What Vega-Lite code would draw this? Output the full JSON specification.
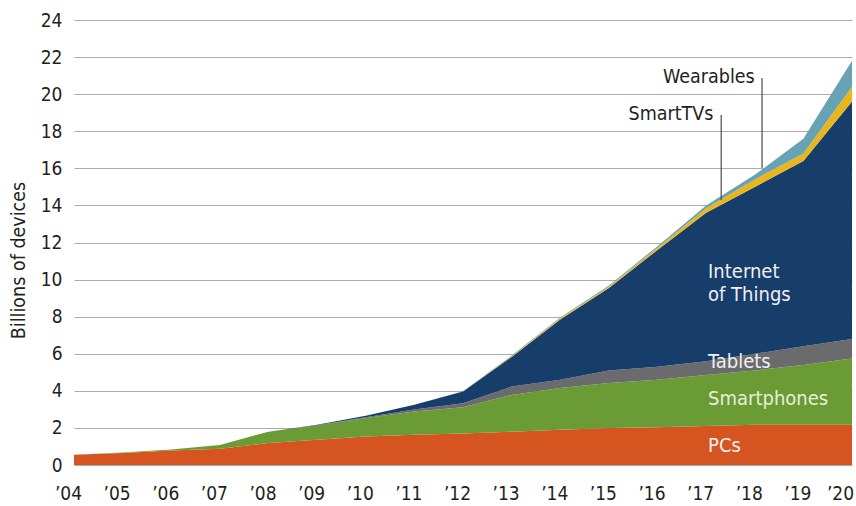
{
  "$schema": "https://vega.github.io/schema/vega-lite/v6.json",
  "width": 778,
  "height": 445,
  "autosize": "none",
  "padding": {"left": 74, "top": 20, "right": 4, "bottom": 41},
  "background": "white",
  "config": {
    "view": {"stroke": null},
    "font": "'DejaVu Sans Condensed', 'Liberation Sans Narrow', 'Liberation Sans', sans-serif",
    "axis": {"labelFont": "'DejaVu Sans Condensed', 'Liberation Sans Narrow', 'Liberation Sans', sans-serif", "titleFont": "'DejaVu Sans Condensed', 'Liberation Sans Narrow', 'Liberation Sans', sans-serif"},
    "text": {"font": "'DejaVu Sans Condensed', 'Liberation Sans Narrow', 'Liberation Sans', sans-serif"}
  },
  "datasets": {
    "series": [
      {"year": 2004, "device": "PCs", "rank": 1, "value": 0.55},
      {"year": 2004, "device": "Smartphones", "rank": 2, "value": 0},
      {"year": 2004, "device": "Tablets", "rank": 3, "value": 0},
      {"year": 2004, "device": "Internet of Things", "rank": 4, "value": 0},
      {"year": 2004, "device": "SmartTVs", "rank": 5, "value": 0},
      {"year": 2004, "device": "Wearables", "rank": 6, "value": 0},
      {"year": 2005, "device": "PCs", "rank": 1, "value": 0.65},
      {"year": 2005, "device": "Smartphones", "rank": 2, "value": 0.02},
      {"year": 2005, "device": "Tablets", "rank": 3, "value": 0},
      {"year": 2005, "device": "Internet of Things", "rank": 4, "value": 0},
      {"year": 2005, "device": "SmartTVs", "rank": 5, "value": 0},
      {"year": 2005, "device": "Wearables", "rank": 6, "value": 0},
      {"year": 2006, "device": "PCs", "rank": 1, "value": 0.78},
      {"year": 2006, "device": "Smartphones", "rank": 2, "value": 0.06},
      {"year": 2006, "device": "Tablets", "rank": 3, "value": 0},
      {"year": 2006, "device": "Internet of Things", "rank": 4, "value": 0},
      {"year": 2006, "device": "SmartTVs", "rank": 5, "value": 0},
      {"year": 2006, "device": "Wearables", "rank": 6, "value": 0},
      {"year": 2007, "device": "PCs", "rank": 1, "value": 0.87},
      {"year": 2007, "device": "Smartphones", "rank": 2, "value": 0.21},
      {"year": 2007, "device": "Tablets", "rank": 3, "value": 0},
      {"year": 2007, "device": "Internet of Things", "rank": 4, "value": 0},
      {"year": 2007, "device": "SmartTVs", "rank": 5, "value": 0},
      {"year": 2007, "device": "Wearables", "rank": 6, "value": 0},
      {"year": 2008, "device": "PCs", "rank": 1, "value": 1.18},
      {"year": 2008, "device": "Smartphones", "rank": 2, "value": 0.62},
      {"year": 2008, "device": "Tablets", "rank": 3, "value": 0},
      {"year": 2008, "device": "Internet of Things", "rank": 4, "value": 0},
      {"year": 2008, "device": "SmartTVs", "rank": 5, "value": 0},
      {"year": 2008, "device": "Wearables", "rank": 6, "value": 0},
      {"year": 2009, "device": "PCs", "rank": 1, "value": 1.36},
      {"year": 2009, "device": "Smartphones", "rank": 2, "value": 0.78},
      {"year": 2009, "device": "Tablets", "rank": 3, "value": 0.01},
      {"year": 2009, "device": "Internet of Things", "rank": 4, "value": 0.02},
      {"year": 2009, "device": "SmartTVs", "rank": 5, "value": 0},
      {"year": 2009, "device": "Wearables", "rank": 6, "value": 0},
      {"year": 2010, "device": "PCs", "rank": 1, "value": 1.54},
      {"year": 2010, "device": "Smartphones", "rank": 2, "value": 1.0},
      {"year": 2010, "device": "Tablets", "rank": 3, "value": 0.04},
      {"year": 2010, "device": "Internet of Things", "rank": 4, "value": 0.08},
      {"year": 2010, "device": "SmartTVs", "rank": 5, "value": 0},
      {"year": 2010, "device": "Wearables", "rank": 6, "value": 0},
      {"year": 2011, "device": "PCs", "rank": 1, "value": 1.63},
      {"year": 2011, "device": "Smartphones", "rank": 2, "value": 1.25},
      {"year": 2011, "device": "Tablets", "rank": 3, "value": 0.12},
      {"year": 2011, "device": "Internet of Things", "rank": 4, "value": 0.25},
      {"year": 2011, "device": "SmartTVs", "rank": 5, "value": 0},
      {"year": 2011, "device": "Wearables", "rank": 6, "value": 0},
      {"year": 2012, "device": "PCs", "rank": 1, "value": 1.7},
      {"year": 2012, "device": "Smartphones", "rank": 2, "value": 1.42},
      {"year": 2012, "device": "Tablets", "rank": 3, "value": 0.21},
      {"year": 2012, "device": "Internet of Things", "rank": 4, "value": 0.63},
      {"year": 2012, "device": "SmartTVs", "rank": 5, "value": 0.01},
      {"year": 2012, "device": "Wearables", "rank": 6, "value": 0.01},
      {"year": 2013, "device": "PCs", "rank": 1, "value": 1.8},
      {"year": 2013, "device": "Smartphones", "rank": 2, "value": 1.98},
      {"year": 2013, "device": "Tablets", "rank": 3, "value": 0.45},
      {"year": 2013, "device": "Internet of Things", "rank": 4, "value": 1.6},
      {"year": 2013, "device": "SmartTVs", "rank": 5, "value": 0.04},
      {"year": 2013, "device": "Wearables", "rank": 6, "value": 0.03},
      {"year": 2014, "device": "PCs", "rank": 1, "value": 1.9},
      {"year": 2014, "device": "Smartphones", "rank": 2, "value": 2.25},
      {"year": 2014, "device": "Tablets", "rank": 3, "value": 0.45},
      {"year": 2014, "device": "Internet of Things", "rank": 4, "value": 3.25},
      {"year": 2014, "device": "SmartTVs", "rank": 5, "value": 0.06},
      {"year": 2014, "device": "Wearables", "rank": 6, "value": 0.04},
      {"year": 2015, "device": "PCs", "rank": 1, "value": 2.0},
      {"year": 2015, "device": "Smartphones", "rank": 2, "value": 2.42},
      {"year": 2015, "device": "Tablets", "rank": 3, "value": 0.68},
      {"year": 2015, "device": "Internet of Things", "rank": 4, "value": 4.45},
      {"year": 2015, "device": "SmartTVs", "rank": 5, "value": 0.08},
      {"year": 2015, "device": "Wearables", "rank": 6, "value": 0.05},
      {"year": 2016, "device": "PCs", "rank": 1, "value": 2.04},
      {"year": 2016, "device": "Smartphones", "rank": 2, "value": 2.56},
      {"year": 2016, "device": "Tablets", "rank": 3, "value": 0.7},
      {"year": 2016, "device": "Internet of Things", "rank": 4, "value": 6.3},
      {"year": 2016, "device": "SmartTVs", "rank": 5, "value": 0.12},
      {"year": 2016, "device": "Wearables", "rank": 6, "value": 0.08},
      {"year": 2017, "device": "PCs", "rank": 1, "value": 2.1},
      {"year": 2017, "device": "Smartphones", "rank": 2, "value": 2.76},
      {"year": 2017, "device": "Tablets", "rank": 3, "value": 0.74},
      {"year": 2017, "device": "Internet of Things", "rank": 4, "value": 8.0},
      {"year": 2017, "device": "SmartTVs", "rank": 5, "value": 0.25},
      {"year": 2017, "device": "Wearables", "rank": 6, "value": 0.15},
      {"year": 2018, "device": "PCs", "rank": 1, "value": 2.17},
      {"year": 2018, "device": "Smartphones", "rank": 2, "value": 2.93},
      {"year": 2018, "device": "Tablets", "rank": 3, "value": 0.9},
      {"year": 2018, "device": "Internet of Things", "rank": 4, "value": 9.0},
      {"year": 2018, "device": "SmartTVs", "rank": 5, "value": 0.4},
      {"year": 2018, "device": "Wearables", "rank": 6, "value": 0.25},
      {"year": 2019, "device": "PCs", "rank": 1, "value": 2.17},
      {"year": 2019, "device": "Smartphones", "rank": 2, "value": 3.23},
      {"year": 2019, "device": "Tablets", "rank": 3, "value": 1.0},
      {"year": 2019, "device": "Internet of Things", "rank": 4, "value": 10.0},
      {"year": 2019, "device": "SmartTVs", "rank": 5, "value": 0.4},
      {"year": 2019, "device": "Wearables", "rank": 6, "value": 0.8},
      {"year": 2020, "device": "PCs", "rank": 1, "value": 2.17},
      {"year": 2020, "device": "Smartphones", "rank": 2, "value": 3.58},
      {"year": 2020, "device": "Tablets", "rank": 3, "value": 1.05},
      {"year": 2020, "device": "Internet of Things", "rank": 4, "value": 12.8},
      {"year": 2020, "device": "SmartTVs", "rank": 5, "value": 0.8},
      {"year": 2020, "device": "Wearables", "rank": 6, "value": 1.4}
    ],
    "leaders": [
      {"year": 2018.15, "value": 20.87, "value2": 16.02},
      {"year": 2017.31, "value": 18.88, "value2": 14.29}
    ],
    "callouts": [
      {"year": 2018.0, "value": 20.62, "label": "Wearables"},
      {"year": 2017.15, "value": 18.61, "label": "SmartTVs"}
    ],
    "inner": [
      {"year": 2017.04, "value": 10.09, "label": "Internet", "kind": "light"},
      {"year": 2017.04, "value": 8.85, "label": "of Things", "kind": "light"},
      {"year": 2017.04, "value": 5.21, "label": "Tablets", "kind": "light"},
      {"year": 2017.04, "value": 3.24, "label": "Smartphones", "kind": "green"},
      {"year": 2017.04, "value": 0.72, "label": "PCs", "kind": "light"}
    ]
  },
  "encoding": {
    "x": {
      "field": "year",
      "type": "quantitative",
      "scale": {"domain": [2004, 2020], "nice": false, "zero": false},
      "axis": {
        "title": null,
        "values": [2004, 2005, 2006, 2007, 2008, 2009, 2010, 2011, 2012, 2013, 2014, 2015, 2016, 2017, 2018, 2019, 2020],
        "format": "d",
        "labelExpr": "'\u2019' + substring(datum.label, 2)",
        "labelFontSize": 19,
        "labelColor": "#231f20",
        "labelPadding": 19,
        "labelOffset": {"condition": {"test": "datum.value == 2020", "value": -12}, "value": -6},
        "labelFlush": false,
        "ticks": false,
        "domain": false,
        "grid": false,
        "labelOverlap": false
      }
    },
    "y": {
      "field": "value",
      "type": "quantitative",
      "scale": {"domain": [0, 24], "nice": false},
      "axis": {
        "title": "Billions of devices",
        "titleFontSize": 19.5,
        "titleFontWeight": "normal",
        "titleColor": "#231f20",
        "titleX": -56,
        "titleY": 240,
        "titleAlign": "center",
        "titleBaseline": "middle",
        "titleAngle": -90,
        "values": [0, 2, 4, 6, 8, 10, 12, 14, 16, 18, 20, 22, 24],
        "labelFontSize": 19,
        "labelColor": "#231f20",
        "labelPadding": 12,
        "ticks": false,
        "domain": false,
        "grid": true,
        "gridColor": "#ababab",
        "gridWidth": 1.2
      }
    }
  },
  "layer": [
    {
      "data": {"name": "series"},
      "mark": {"type": "area", "interpolate": "linear"},
      "encoding": {
        "y": {"field": "value", "type": "quantitative", "stack": "zero"},
        "color": {
          "field": "device",
          "type": "nominal",
          "scale": {
            "domain": ["PCs", "Smartphones", "Tablets", "Internet of Things", "SmartTVs", "Wearables"],
            "range": ["#d6541f", "#6a9b35", "#6b6b6d", "#173e6b", "#e9b61e", "#68a3b5"]
          },
          "legend": null
        },
        "order": {"field": "rank", "type": "quantitative"}
      }
    },
    {
      "data": {"name": "leaders"},
      "mark": {"type": "rule", "color": "#4a4a4a", "strokeWidth": 1.2},
      "encoding": {
        "y2": {"field": "value2"}
      }
    },
    {
      "data": {"name": "callouts"},
      "mark": {"type": "text", "align": "right", "baseline": "alphabetic", "fontSize": 19.5, "color": "#231f20"},
      "encoding": {
        "text": {"field": "label"}
      }
    },
    {
      "data": {"name": "inner"},
      "transform": [{"filter": "datum.kind == 'light'"}],
      "mark": {"type": "text", "align": "left", "baseline": "alphabetic", "fontSize": 20, "color": "#eef0f2"},
      "encoding": {
        "text": {"field": "label"}
      }
    },
    {
      "data": {"name": "inner"},
      "transform": [{"filter": "datum.kind == 'green'"}],
      "mark": {"type": "text", "align": "left", "baseline": "alphabetic", "fontSize": 20, "color": "#e6f0d6"},
      "encoding": {
        "text": {"field": "label"}
      }
    }
  ]
}
